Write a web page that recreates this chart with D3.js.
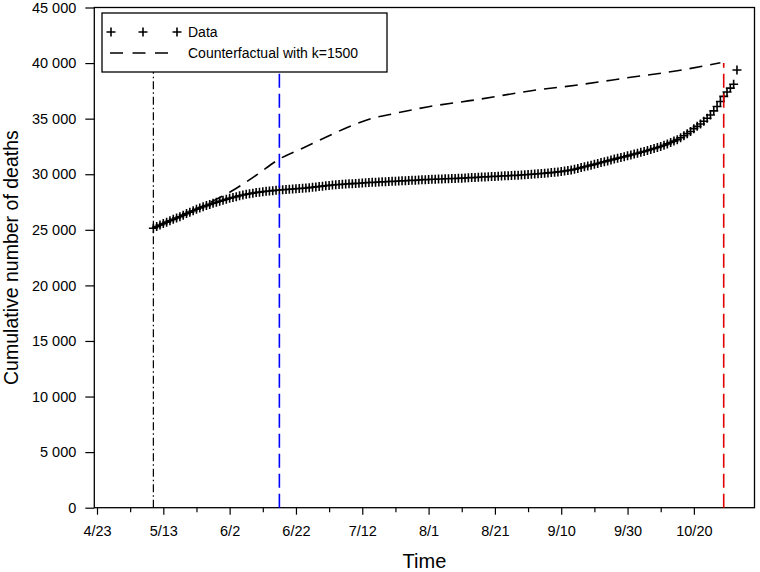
<!DOCTYPE html>
<html>
<head>
<meta charset="utf-8">
<script src="https://cdn.jsdelivr.net/npm/d3@7"></script>
<style>
  body { margin: 0; background: #fff; }
  svg { font-family: 'Liberation Sans', Arial, Helvetica, sans-serif; }
</style>
</head>
<body>
<div id="chart"></div>
<script>
// daily cumulative deaths, one value per day starting 2020-05-10
const dataStart = '2020-05-10';
const deaths = [
  25135, 25290, 25430, 25560, 25690, 25820, 25940, 26060, 26180, 26320,
  26460, 26590, 26720, 26845, 26960, 27070, 27180, 27285, 27385, 27480,
  27570, 27660, 27750, 27835, 27910, 27985, 28060, 28130, 28195, 28250,
  28300, 28350, 28390, 28430, 28465, 28495, 28525, 28555, 28580, 28605,
  28625, 28645, 28670, 28690, 28710, 28733, 28765, 28795, 28830, 28860,
  28895, 28930, 28960, 28995, 29030, 29050, 29070, 29095, 29115, 29135,
  29155, 29175, 29195, 29215, 29237, 29252, 29268, 29283, 29298, 29313,
  29328, 29345, 29360, 29375, 29390, 29405, 29420, 29435, 29450, 29465,
  29480, 29497, 29512, 29528, 29543, 29555, 29566, 29577, 29588, 29600,
  29611, 29622, 29633, 29648, 29664, 29680, 29696, 29712, 29728, 29745,
  29760, 29777, 29792, 29807, 29822, 29838, 29853, 29868, 29884, 29899,
  29915, 29930, 29950, 29972, 29995, 30020, 30045, 30070, 30095, 30120,
  30146, 30173, 30210, 30250, 30295, 30338, 30380, 30450, 30520, 30595,
  30670, 30740, 30815, 30890, 30970, 31050, 31126, 31200, 31280, 31360,
  31432, 31505, 31577, 31656, 31735, 31814, 31893, 31972, 32050, 32140,
  32230, 32320, 32410, 32500, 32610, 32730, 32850, 32980, 33110, 33280,
  33460, 33650, 33850, 34100, 34310, 34520, 34760, 35040, 35330, 35700,
  36100, 36540, 37000, 37400, 37750, 38100, 39380
];

// counterfactual with k=1500
const cfDates = ['2020-05-10', '2020-05-20', '2020-05-28', '2020-06-02', '2020-06-10',
  '2020-06-17', '2020-06-24', '2020-07-01', '2020-07-08', '2020-07-15', '2020-07-22',
  '2020-08-01', '2020-08-15', '2020-09-01', '2020-09-15', '2020-10-01', '2020-10-15',
  '2020-10-28'];
const cfValues = [25135, 26460, 27600, 28380, 29910, 31370, 32340, 33320, 34275, 35030,
  35480, 36075, 36680, 37515, 38030, 38720, 39310, 40030];

// vertical markers
const vlineDates = ['2020-05-10', '2020-06-17', '2020-10-29'];
const vlineColors = ['#000', '#0000ff', '#e00000'];
const vlineTop = 40000;

const xTickLabels = ['2020-04-23', '2020-05-13', '2020-06-02', '2020-06-22', '2020-07-12',
  '2020-08-01', '2020-08-21', '2020-09-10', '2020-09-30', '2020-10-20'];
const yTicks = [0, 5000, 10000, 15000, 20000, 25000, 30000, 35000, 40000, 45000];

const W = 760, H = 572;
const mLeft = 94.3, mRight = 754.5, mTop = 7.5, mBottom = 507.7;

const svg = d3.select('#chart').append('svg')
  .attr('width', W).attr('height', H);

const x = d3.scaleUtc()
  .domain([new Date('2020-04-22T04:28Z'), new Date('2020-11-07T06:52Z')])
  .range([mLeft, mRight]);
const y = d3.scaleLinear().domain([0, 45000]).range([mBottom, mTop]);

const majors = xTickLabels.map((d) => new Date(d + 'T00:00Z'));
const minors = majors.slice(0, -1).map((d) => d3.utcDay.offset(d, 10));

// minor x ticks
svg.append('g')
  .attr('transform', `translate(0,${mBottom})`)
  .call(d3.axisBottom(x).tickValues(minors).tickSize(4.5).tickFormat(''))
  .call((g) => g.select('.domain').remove())
  .call((g) => g.selectAll('line').attr('stroke-width', 1.2));

// major x ticks
svg.append('g')
  .attr('transform', `translate(0,${mBottom})`)
  .call(d3.axisBottom(x).tickValues(majors).tickSize(7).tickPadding(11.5)
    .tickFormat(d3.utcFormat('%-m/%-d')))
  .call((g) => g.select('.domain').remove())
  .call((g) => g.selectAll('line').attr('stroke-width', 1.2))
  .call((g) => g.selectAll('text').attr('font-size', 14.5).attr('fill', '#000'))
  .attr('font-family', null);

// y axis
svg.append('g')
  .attr('transform', `translate(${mLeft},0)`)
  .call(d3.axisLeft(y).tickValues(yTicks).tickSize(9).tickPadding(9)
    .tickFormat((v) => d3.format(',')(v).replace(/,/g, ' ')))
  .call((g) => g.select('.domain').remove())
  .call((g) => g.selectAll('line').attr('stroke-width', 1.2))
  .call((g) => g.selectAll('text').attr('font-size', 14.5).attr('fill', '#000'))
  .attr('font-family', null);

// frame
svg.append('rect')
  .attr('x', mLeft).attr('y', mTop)
  .attr('width', mRight - mLeft).attr('height', mBottom - mTop)
  .attr('fill', 'none').attr('stroke', '#000').attr('stroke-width', 1.3);

// counterfactual
const cf = cfDates.map((d, i) => [new Date(d + 'T00:00Z'), cfValues[i]]);
svg.append('path')
  .datum(cf)
  .attr('fill', 'none')
  .attr('stroke', '#000')
  .attr('stroke-width', 1.6)
  .attr('stroke-dasharray', '13,8')
  .attr('d', d3.line().curve(d3.curveMonotoneX).x((d) => x(d[0])).y((d) => y(d[1])));

// data markers
const t0 = new Date(dataStart + 'T00:00Z');
const pts = deaths.map((v, i) => [d3.utcDay.offset(t0, i), v]);
const plus = (cx, cy, r) => `M${cx - r},${cy}H${cx + r}M${cx},${cy - r}V${cy + r}`;
svg.append('path')
  .attr('fill', 'none')
  .attr('stroke', '#000')
  .attr('stroke-width', 1.6)
  .attr('d', pts.map((d) => plus(x(d[0]), y(d[1]), 4.5)).join(''));

// vertical lines
const dashes = ['8,3,1.5,3', '14,6', '14,6'];
vlineDates.forEach((d, i) => {
  const xv = x(new Date(d + 'T00:00Z'));
  svg.append('line')
    .attr('x1', xv).attr('x2', xv)
    .attr('y1', y(0)).attr('y2', y(vlineTop))
    .attr('stroke', vlineColors[i])
    .attr('stroke-width', i === 0 ? 1.2 : 1.6)
    .attr('stroke-dasharray', dashes[i]);
});

// legend
const lg = svg.append('g');
lg.append('rect')
  .attr('x', 102).attr('y', 13).attr('width', 285).attr('height', 59)
  .attr('fill', '#fff').attr('stroke', '#000').attr('stroke-width', 1.3);
lg.append('path')
  .attr('fill', 'none').attr('stroke', '#000').attr('stroke-width', 1.6)
  .attr('d', [111, 143, 177].map((cx) => plus(cx, 32, 4.5)).join(''));
lg.append('text').attr('x', 188).attr('y', 37).attr('font-size', 14).text('Data');
lg.append('line')
  .attr('x1', 110).attr('x2', 173).attr('y1', 53).attr('y2', 53)
  .attr('stroke', '#000').attr('stroke-width', 1.6).attr('stroke-dasharray', '13,9.5');
lg.append('text').attr('x', 188).attr('y', 58).attr('font-size', 14)
  .text('Counterfactual with k=1500');

// axis titles
svg.append('text')
  .attr('x', (mLeft + mRight) / 2).attr('y', 568)
  .attr('text-anchor', 'middle').attr('font-size', 20)
  .text('Time');
svg.append('text')
  .attr('transform', `translate(18,${(mTop + mBottom) / 2}) rotate(-90)`)
  .attr('text-anchor', 'middle').attr('font-size', 19.5)
  .text('Cumulative number of deaths');
</script>
</body>
</html>
